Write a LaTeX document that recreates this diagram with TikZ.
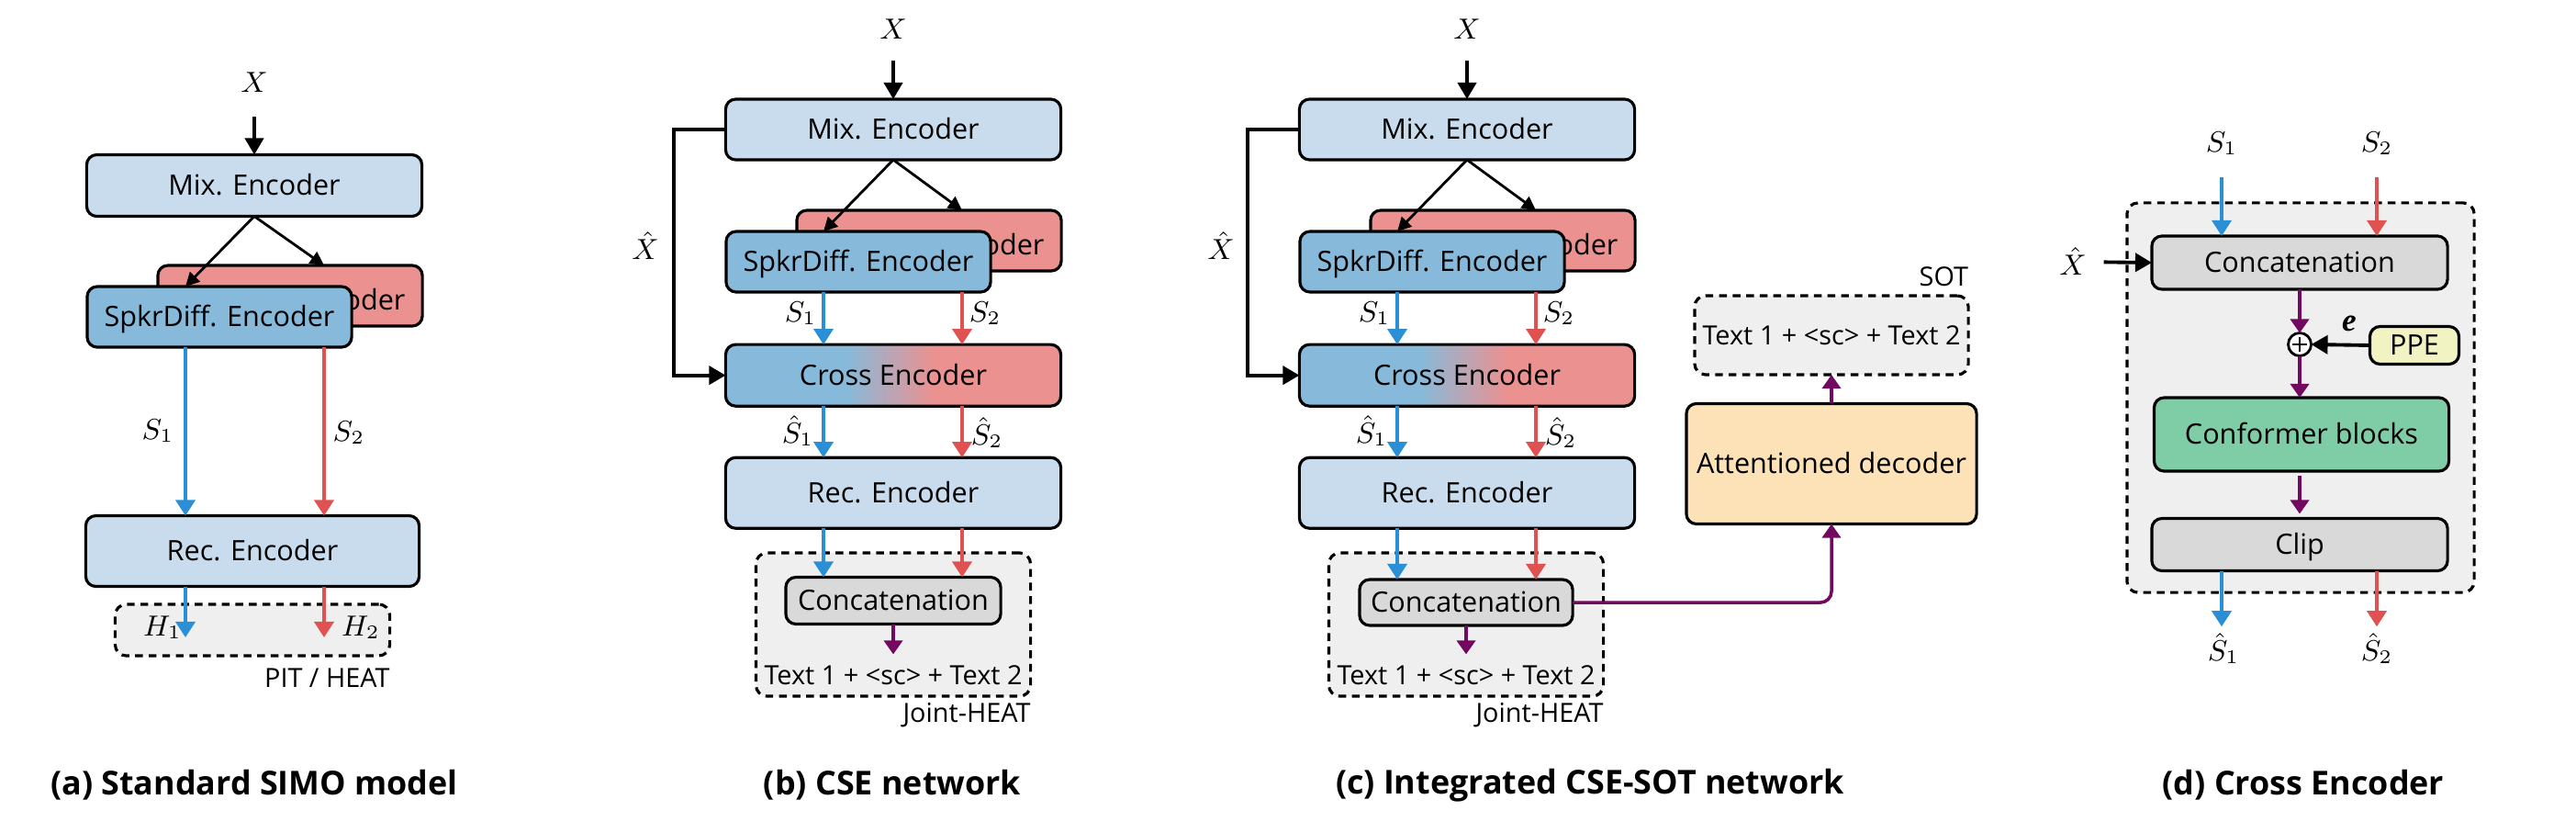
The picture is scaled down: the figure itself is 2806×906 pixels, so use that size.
\documentclass[tikz,border=0pt]{standalone}
\usepackage{fontspec}
\setmainfont{Open Sans}
\newfontfamily\serifbi{Liberation Serif}
\usetikzlibrary{arrows.meta, positioning}

\definecolor{mixblue}{HTML}{C9DCEE}
\definecolor{spkblue}{HTML}{87BADA}
\definecolor{spkred}{HTML}{EB9190}
\definecolor{lineblue}{HTML}{2A8FD4}
\definecolor{linered}{HTML}{E05252}
\definecolor{concpurple}{HTML}{72085F}
\definecolor{boxgray}{HTML}{D9D9D9}
\definecolor{panelgray}{HTML}{EFEFEF}
\definecolor{ppeyellow}{HTML}{F2F3C2}
\definecolor{confgreen}{HTML}{7FCDA6}
\definecolor{decorange}{HTML}{FDE2B8}

\newcommand{\encfont}{\fontsize{8.7}{10}\selectfont}
\newcommand{\lblfont}{\fontsize{8.2}{10}\selectfont}
\newcommand{\mlblfont}{\fontsize{8.8}{10}\selectfont}
\newcommand{\capfont}{\fontsize{10.2}{12}\selectfont\bfseries}

\pgfdeclarehorizontalshading{crossshade}{100bp}{color(0bp)=(spkblue); color(43bp)=(spkblue); color(56bp)=(spkred); color(100bp)=(spkred)}

\begin{document}
\begin{tikzpicture}[x=0.01cm, y=-0.01cm,
  every node/.style={inner sep=0pt, outer sep=0pt},
  box/.style={draw, rounded corners=0.11cm, line width=0.9pt, font=\encfont, text height=6.6pt, text depth=0.4pt},
  backbox/.style={box, fill=spkred, minimum width=2.88cm, minimum height=0.66cm, text height=9pt},
  groupbox/.style={draw, dash pattern=on 2.4pt off 1.8pt, line width=0.9pt, rounded corners=0.12cm, fill=panelgray},
  lbl/.style={font=\lblfont},
  mlbl/.style={font=\mlblfont},
  captionlbl/.style={font=\capfont},
  blackarrow/.style={-{Triangle[width=0.2cm,length=0.18cm]}, line width=1.1pt},
  mixarrow/.style={-{Triangle[width=0.15cm,length=0.15cm]}, line width=0.8pt},
  bluearrow/.style={-{Triangle[width=0.21cm,length=0.17cm]}, line width=1pt, color=lineblue},
  redarrow/.style={-{Triangle[width=0.21cm,length=0.17cm]}, line width=1pt, color=linered},
  purplearrow/.style={-{Triangle[width=0.2cm,length=0.15cm]}, line width=1pt, color=concpurple}]
\useasboundingbox (0,0) rectangle (2806,906);

% (a) Standard SIMO model
\node[box, fill=mixblue, minimum width=3.65cm, minimum height=0.67cm] (mixA) at (277,202) {Mix. Encoder};
\node[mlbl, above=0.68cm of mixA] (xA) {$X$};
\node[backbox] (spkRA) at (316,322) {SpkrDiff. Encoder};
\node[box, fill=spkblue, minimum width=2.88cm, minimum height=0.66cm] (spkA) at (239,345) {SpkrDiff. Encoder};
\node[box, fill=mixblue, minimum width=3.63cm, minimum height=0.77cm] (recA) at (275,600) {Rec. Encoder};
\node[groupbox, minimum width=2.99cm, minimum height=0.56cm] (heatA) at (275,686) {};
\node[lbl, below left=0.14cm and 0cm of heatA.south east] (pitA) {PIT / HEAT};
\coordinate (s1A) at (202,0);
\coordinate (s2A) at (353,0);
\coordinate (h1A) at (202,694);
\coordinate (h2A) at (353,694);

\draw[blackarrow, shorten <=0.27cm] (xA) -- (mixA);
\draw[mixarrow] (mixA.south) -- (spkA.north -| s1A);
\draw[mixarrow] (mixA.south) -- (spkRA.north -| s2A);
\draw[bluearrow] (spkA.south -| s1A) -- (recA.north -| s1A);
\draw[redarrow] (spkA.south -| s2A) -- (recA.north -| s2A);
\draw[bluearrow] (recA.south -| h1A) -- (h1A);
\draw[redarrow] (recA.south -| h2A) -- (h2A);
\node[mlbl] (s1lA) at (172,469) {$S_1$};
\node[mlbl] (s2lA) at (380,471) {$S_2$};
\node[mlbl] (h1lA) at (177,683) {$H_1$};
\node[mlbl] (h2lA) at (393,683) {$H_2$};
\node[captionlbl] (capA) at (277,855) {(a) Standard SIMO model};

% (b) CSE network
\node[box, fill=mixblue, minimum width=3.65cm, minimum height=0.66cm] (mixB) at (973,141) {Mix. Encoder};
\node[mlbl, above=0.65cm of mixB] (xB) {$X$};
\node[backbox] (spkRB) at (1012,262) {SpkrDiff. Encoder};
\node[box, fill=spkblue, minimum width=2.88cm, minimum height=0.66cm] (spkB) at (935,285) {SpkrDiff. Encoder};
\node[box, shade, shading=crossshade, minimum width=3.65cm, minimum height=0.67cm, below=2.01cm of mixB] (crossB) {Cross Encoder};
\node[box, fill=mixblue, minimum width=3.65cm, minimum height=0.77cm, below=0.56cm of crossB] (recB) {Rec. Encoder};
\node[groupbox, minimum width=2.99cm, minimum height=1.56cm] (jointB) at (973,680) {};
\node[box, fill=boxgray, minimum width=2.34cm, minimum height=0.51cm] (concB) at (973,654) {Concatenation};
\node[lbl] (textB) at (973,735) {Text 1 + <sc> + Text 2};
\node[lbl, below left=0.07cm and 0cm of jointB.south east] (jhB) {Joint-HEAT};
\coordinate (s1B) at (897,0);
\coordinate (s2B) at (1048,0);

\draw[blackarrow, shorten <=0.23cm] (xB) -- (mixB);
\draw[mixarrow] (mixB.south) -- (spkB.north -| s1B);
\draw[mixarrow] (mixB.south) -- (spkRB.north -| s2B);
\draw[blackarrow] (mixB.west) -- ++(-0.56cm,0) |- (crossB.west);
\node[mlbl] (xhB) at (703,268) {$\hat{X}$};
\draw[bluearrow] (spkB.south -| s1B) -- (crossB.north -| s1B);
\draw[redarrow] (spkB.south -| s2B) -- (crossB.north -| s2B);
\draw[bluearrow] (crossB.south -| s1B) -- (recB.north -| s1B);
\draw[redarrow] (crossB.south -| s2B) -- (recB.north -| s2B);
\draw[bluearrow] (recB.south -| s1B) -- (concB.north -| s1B);
\draw[redarrow] (recB.south -| s2B) -- (concB.north -| s2B);
\draw[purplearrow, shorten >=0.12cm] (concB) -- (textB);
\node[mlbl] (s1lB) at (872,341) {$S_1$};
\node[mlbl] (s2lB) at (1073,341) {$S_2$};
\node[mlbl] (sh1lB) at (869,469) {$\hat{S}_1$};
\node[mlbl] (sh2lB) at (1075,471) {$\hat{S}_2$};
\node[captionlbl] (capB) at (972,855) {(b) CSE network};

% (c) Integrated CSE-SOT network
\node[box, fill=mixblue, minimum width=3.65cm, minimum height=0.66cm] (mixC) at (1598,141) {Mix. Encoder};
\node[mlbl, above=0.65cm of mixC] (xC) {$X$};
\node[backbox] (spkRC) at (1637,262) {SpkrDiff. Encoder};
\node[box, fill=spkblue, minimum width=2.88cm, minimum height=0.66cm] (spkC) at (1560,285) {SpkrDiff. Encoder};
\node[box, shade, shading=crossshade, minimum width=3.65cm, minimum height=0.67cm, below=2.01cm of mixC] (crossC) {Cross Encoder};
\node[box, fill=mixblue, minimum width=3.65cm, minimum height=0.77cm, below=0.56cm of crossC] (recC) {Rec. Encoder};
\node[groupbox, minimum width=2.99cm, minimum height=1.56cm] (jointC) at (1597,680) {};
\node[box, fill=boxgray, minimum width=2.32cm, minimum height=0.50cm] (concC) at (1597,656) {Concatenation};
\node[lbl] (textC) at (1597,735) {Text 1 + <sc> + Text 2};
\node[lbl, below left=0.07cm and 0cm of jointC.south east] (jhC) {Joint-HEAT};
\node[box, fill=decorange, minimum width=3.16cm, minimum height=1.31cm] (decC) at (1995,505) {Attentioned decoder};
\node[groupbox, font=\lblfont, minimum width=2.98cm, minimum height=0.86cm] (sotC) at (1995,365) {Text 1 + <sc> + Text 2};
\node[lbl, above left=0.1cm and 0cm of sotC.north east] (sotlC) {SOT};
\coordinate (s1C) at (1522,0);
\coordinate (s2C) at (1673,0);

\draw[blackarrow, shorten <=0.23cm] (xC) -- (mixC);
\draw[mixarrow] (mixC.south) -- (spkC.north -| s1C);
\draw[mixarrow] (mixC.south) -- (spkRC.north -| s2C);
\draw[blackarrow] (mixC.west) -- ++(-0.56cm,0) |- (crossC.west);
\node[mlbl] (xhC) at (1330,268) {$\hat{X}$};
\draw[bluearrow] (spkC.south -| s1C) -- (crossC.north -| s1C);
\draw[redarrow] (spkC.south -| s2C) -- (crossC.north -| s2C);
\draw[bluearrow] (crossC.south -| s1C) -- (recC.north -| s1C);
\draw[redarrow] (crossC.south -| s2C) -- (recC.north -| s2C);
\draw[bluearrow] (recC.south -| s1C) -- (concC.north -| s1C);
\draw[redarrow] (recC.south -| s2C) -- (concC.north -| s2C);
\draw[purplearrow, shorten >=0.12cm] (concC) -- (textC);
\draw[purplearrow, rounded corners=0.12cm] (concC.east) -| (decC.south);
\draw[purplearrow] (decC.north) -- (sotC.south);
\node[mlbl] (s1lC) at (1497,341) {$S_1$};
\node[mlbl] (s2lC) at (1698,341) {$S_2$};
\node[mlbl] (sh1lC) at (1494,469) {$\hat{S}_1$};
\node[mlbl] (sh2lC) at (1700,471) {$\hat{S}_2$};
\node[captionlbl] (capC) at (1732,855) {(c) Integrated CSE-SOT network};

% (d) Cross Encoder
\node[groupbox, minimum width=3.78cm, minimum height=4.24cm] (crossD) at (2506,433) {};
\node[box, fill=boxgray, minimum width=3.22cm, minimum height=0.58cm] (concD) at (2505,286) {Concatenation};
\node[draw, circle, fill=white, line width=0.8pt, minimum size=0.25cm] (plusD) at (2505,375) {};
\node[box, fill=ppeyellow, minimum width=0.97cm, minimum height=0.41cm] (ppeD) at (2630,376) {PPE};
\node[box, fill=confgreen, minimum width=3.21cm, minimum height=0.80cm] (confD) at (2507,473) {Conformer blocks};
\node[box, fill=boxgray, minimum width=3.22cm, minimum height=0.57cm] (clipD) at (2505,593) {Clip};
\node[mlbl] (s1lD) at (2420,156) {$S_1$};
\node[mlbl] (s2lD) at (2589,156) {$S_2$};
\node[mlbl] (xhD) at (2258,285) {$\hat{X}$};
\node[mlbl, font=\fontsize{10}{12}\selectfont\serifbi\bfseries\itshape] (eD) at (2559,352) {e};
\node[mlbl] (sh1lD) at (2422,706) {$\hat{S}_1$};
\node[mlbl] (sh2lD) at (2589,706) {$\hat{S}_2$};

\draw[line width=0.8pt] ([yshift=0.08cm]plusD.center) -- ([yshift=-0.08cm]plusD.center)
  ([xshift=-0.08cm]plusD.center) -- ([xshift=0.08cm]plusD.center);
\draw[bluearrow, shorten <=0.24cm] (s1lD) -- (concD.north -| s1lD);
\draw[redarrow, shorten <=0.24cm] (s2lD) -- (concD.north -| s2lD);
\draw[blackarrow, shorten <=0.19cm] (xhD) -- (concD.west);
\draw[purplearrow] (concD.south) -- (plusD.north);
\draw[purplearrow] (plusD.south) -- (confD.north -| plusD);
\draw[purplearrow, shorten <=0.05cm, shorten >=0.05cm] (confD.south -| plusD) -- (clipD.north -| plusD);
\draw[blackarrow] (ppeD.west) -- (plusD.east);
\draw[bluearrow, shorten >=0.07cm] (clipD.south -| s1lD) -- (sh1lD.north -| s1lD);
\draw[redarrow, shorten >=0.07cm] (clipD.south -| s2lD) -- (sh2lD.north -| s2lD);
\node[captionlbl] (capD) at (2509,855) {(d) Cross Encoder};
\end{tikzpicture}
\end{document}
